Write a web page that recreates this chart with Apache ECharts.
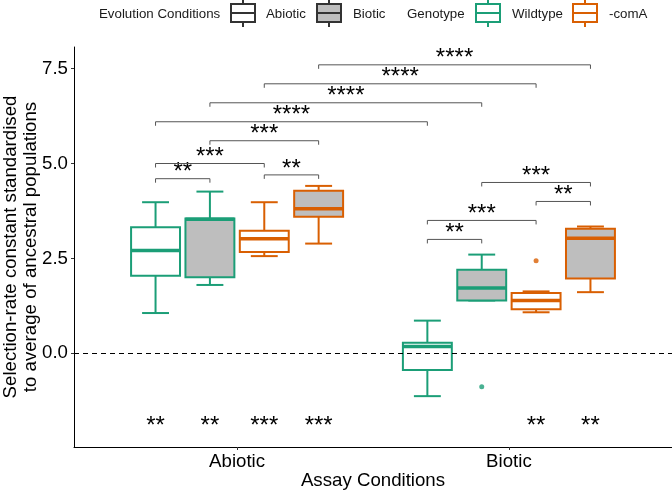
<!DOCTYPE html>
<html><head><meta charset="utf-8">
<script src="https://cdn.jsdelivr.net/npm/echarts@6/dist/echarts.min.js"></script>
<style>html,body{margin:0;padding:0;background:#fff}#c{width:672px;height:492px}</style>
</head><body><div id="c"></div>
<script>
// ---------------- data ----------------
const assayConditions = ['Abiotic', 'Biotic'];
const evolutionConditions = ['Abiotic', 'Biotic'];
const genotypes = ['Wildtype', '-comA'];
// boxes inside each assay condition: [genotype index, evolution index]
const boxOrder = [[0, 0], [0, 1], [1, 0], [1, 1]];
// [lower whisker, Q1, median, Q3, upper whisker]
const abioticAssayBoxes = [
  [1.06, 2.04, 2.71, 3.32, 3.98],
  [1.80, 2.00, 3.53, 3.55, 4.26],
  [2.56, 2.67, 3.02, 3.23, 3.98],
  [2.89, 3.60, 3.81, 4.28, 4.41]
];
const bioticAssayBoxes = [
  [-1.13, -0.44, 0.18, 0.28, 0.86],
  [1.39, 1.39, 1.72, 2.20, 2.60],
  [1.08, 1.16, 1.39, 1.59, 1.63],
  [1.61, 1.97, 3.03, 3.28, 3.34]
];
// [assay index, box index, value]
const outlierPoints = [[1, 1, -0.88], [1, 2, 2.44]];
// significance vs. ancestor, printed at the bottom
const abioticAssayStars = ['**', '**', '***', '***'];
const bioticAssayStars = ['', '', '**', '**'];
const starLevel = -1.8;
// pairwise comparisons: [assay A, box A, assay B, box B, bracket height, label]
const brackets = [
  [0, 0, 0, 1, 4.6, '**'],
  [0, 0, 0, 2, 5.0, '***'],
  [0, 2, 0, 3, 4.7, '**'],
  [0, 1, 0, 3, 5.6, '***'],
  [0, 0, 1, 0, 6.1, '****'],
  [0, 1, 1, 1, 6.6, '****'],
  [0, 2, 1, 2, 7.1, '****'],
  [0, 3, 1, 3, 7.6, '****'],
  [1, 0, 1, 1, 3.0, '**'],
  [1, 0, 1, 2, 3.5, '***'],
  [1, 2, 1, 3, 4.0, '**'],
  [1, 1, 1, 3, 4.5, '***']
];
const yTicks = [0, 2.5, 5, 7.5];
const yTitle = 'Selection-rate constant standardised\nto average of ancestral populations';
const xTitle = 'Assay Conditions';

// ---------------- styling ----------------
const FONT = '"Liberation Sans", Arial, Helvetica, sans-serif';
const AX = 18.67;
const genotypeColors = ['#1B9E77', '#D95F02'];
const evolutionFills = ['#FFFFFF', '#BEBEBE'];
const dodge = [-0.3, -0.1, 0.1, 0.3];
const boxWidth = 0.18;
const xPos = (a, b) => a + 1 + dodge[b];

const boxData = [];
[abioticAssayBoxes, bioticAssayBoxes].forEach((arr, a) => {
  arr.forEach((s, b) => {
    boxData.push([xPos(a, b), s[0], s[1], s[2], s[3], s[4], boxOrder[b][0], boxOrder[b][1]]);
  });
});
const outlierData = outlierPoints.map(p => ({
  value: [xPos(p[0], p[1]), p[2]],
  itemStyle: { color: genotypeColors[boxOrder[p[1]][0]] }
}));
const starData = [];
[abioticAssayStars, bioticAssayStars].forEach((arr, a) => {
  arr.forEach((t, b) => { if (t) starData.push([xPos(a, b), starLevel, t]); });
});
const bracketData = brackets.map(r => [xPos(r[0], r[1]), xPos(r[2], r[3]), r[4], r[5]]);

function renderBox(params, api) {
  const x = api.value(0);
  const lo = api.coord([x, api.value(1)]);
  const q1 = api.coord([x, api.value(2)]);
  const md = api.coord([x, api.value(3)]);
  const q3 = api.coord([x, api.value(4)]);
  const hi = api.coord([x, api.value(5)]);
  const col = genotypeColors[api.value(6)];
  const fill = evolutionFills[api.value(7)];
  const w = api.size([boxWidth, 0])[0];
  const cap = w * 0.55;
  const cx = lo[0];
  const ls = { stroke: col, lineWidth: 2 };
  return {
    type: 'group',
    children: [
      { type: 'line', shape: { x1: cx, y1: hi[1], x2: cx, y2: q3[1] }, style: ls },
      { type: 'line', shape: { x1: cx, y1: lo[1], x2: cx, y2: q1[1] }, style: ls },
      { type: 'line', shape: { x1: cx - cap / 2, y1: hi[1], x2: cx + cap / 2, y2: hi[1] }, style: ls },
      { type: 'line', shape: { x1: cx - cap / 2, y1: lo[1], x2: cx + cap / 2, y2: lo[1] }, style: ls },
      { type: 'rect', shape: { x: cx - w / 2, y: q3[1], width: w, height: q1[1] - q3[1] }, style: { fill: fill, stroke: col, lineWidth: 2 } },
      { type: 'line', shape: { x1: cx - w / 2, y1: md[1], x2: cx + w / 2, y2: md[1] }, style: { stroke: col, lineWidth: 3.5 } }
    ]
  };
}

function renderBracket(params, api) {
  const a = api.coord([api.value(0), api.value(2)]);
  const b = api.coord([api.value(1), api.value(2)]);
  const tip = 4;
  const st = { stroke: '#555', lineWidth: 1, fill: null };
  return {
    type: 'group',
    children: [
      { type: 'polyline', shape: { points: [[a[0], a[1] + tip], a, b, [b[0], b[1] + tip]] }, style: st },
      { type: 'text', x: (a[0] + b[0]) / 2, y: a[1] - 6,
        style: { text: bracketData[params.dataIndex][3], font: '24px ' + FONT, fill: '#000', align: 'center', verticalAlign: 'middle' } }
    ]
  };
}

function renderStar(params, api) {
  const p = api.coord([api.value(0), api.value(1)]);
  return { type: 'text', x: p[0], y: p[1] + 5,
    style: { text: starData[params.dataIndex][2], font: '24px ' + FONT, fill: '#000', align: 'center', verticalAlign: 'middle' } };
}

// legend drawn as graphics
function legendIcon(x, stroke, fill) {
  return { type: 'group', x: x, y: 0, children: [
    { type: 'line', shape: { x1: 13, y1: 0, x2: 13, y2: 4 }, style: { stroke: stroke, lineWidth: 2 } },
    { type: 'line', shape: { x1: 13, y1: 22, x2: 13, y2: 27 }, style: { stroke: stroke, lineWidth: 2 } },
    { type: 'rect', shape: { x: 1, y: 4, width: 24, height: 18 }, style: { fill: fill, stroke: stroke, lineWidth: 2 } },
    { type: 'line', shape: { x1: 1, y1: 13, x2: 25, y2: 13 }, style: { stroke: stroke, lineWidth: 2 } }
  ]};
}
function legendText(x, t) {
  return { type: 'text', x: x, y: 14, style: { text: t, font: '13.3px ' + FONT, fill: '#1a1a1a', verticalAlign: 'middle' } };
}
const legendGraphics = [
  legendText(99, 'Evolution Conditions'),
  legendIcon(230, '#333', evolutionFills[0]), legendText(266, evolutionConditions[0]),
  legendIcon(316, '#333', evolutionFills[1]), legendText(353, evolutionConditions[1]),
  legendText(407, 'Genotype'),
  legendIcon(475, genotypeColors[0], '#fff'), legendText(512, genotypes[0]),
  legendIcon(572, genotypeColors[1], '#fff'), legendText(609, genotypes[1])
];

const chart = echarts.init(document.getElementById('c'), null, { renderer: 'canvas' });
chart.setOption({
  animation: false,
  backgroundColor: '#fff',
  textStyle: { fontFamily: FONT },
  grid: { left: 74, right: 0, top: 47, bottom: 45, containLabel: false, outerBoundsMode: 'none' },
  graphic: legendGraphics,
  xAxis: {
    type: 'value', min: 0.4, max: 2.6,
    splitLine: { show: false },
    axisLine: { show: true, onZero: false, lineStyle: { color: '#000', width: 1 } },
    axisTick: { show: true, customValues: [1, 2], length: 3, lineStyle: { color: '#333' } },
    axisLabel: { customValues: [1, 2], formatter: v => assayConditions[Math.round(v) - 1] || '', fontSize: AX, color: '#000', margin: 5, fontFamily: FONT },
    name: xTitle, nameLocation: 'middle', nameGap: 24, nameMoveOverlap: false,
    nameTextStyle: { fontSize: AX, color: '#000', fontFamily: FONT }
  },
  yAxis: {
    type: 'value', min: -2.47, max: 8.07,
    splitLine: { show: false },
    axisLine: { show: true, onZero: false, lineStyle: { color: '#000', width: 1 } },
    axisTick: { show: true, customValues: yTicks, length: 3, lineStyle: { color: '#333' } },
    axisLabel: { customValues: yTicks, formatter: v => v.toFixed(1), fontSize: AX, color: '#000', margin: 6, fontFamily: FONT },
    name: yTitle, nameLocation: 'middle', nameGap: 33, nameRotate: 90, nameMoveOverlap: false,
    nameTextStyle: { fontSize: AX, color: '#000', lineHeight: 20, fontFamily: FONT }
  },
  series: [
    { type: 'line', data: [], z: 1, silent: true,
      markLine: { silent: true, symbol: 'none', label: { show: false },
        lineStyle: { color: '#000', type: [5, 4], width: 1 }, data: [{ yAxis: 0 }] } },
    { type: 'custom', z: 3, renderItem: renderBox, data: boxData, silent: true },
    { type: 'scatter', z: 4, data: outlierData, symbolSize: 5, silent: true },
    { type: 'custom', z: 4, renderItem: renderBracket, data: bracketData, silent: true },
    { type: 'custom', z: 4, renderItem: renderStar, data: starData, silent: true }
  ]
});
</script></body></html>
